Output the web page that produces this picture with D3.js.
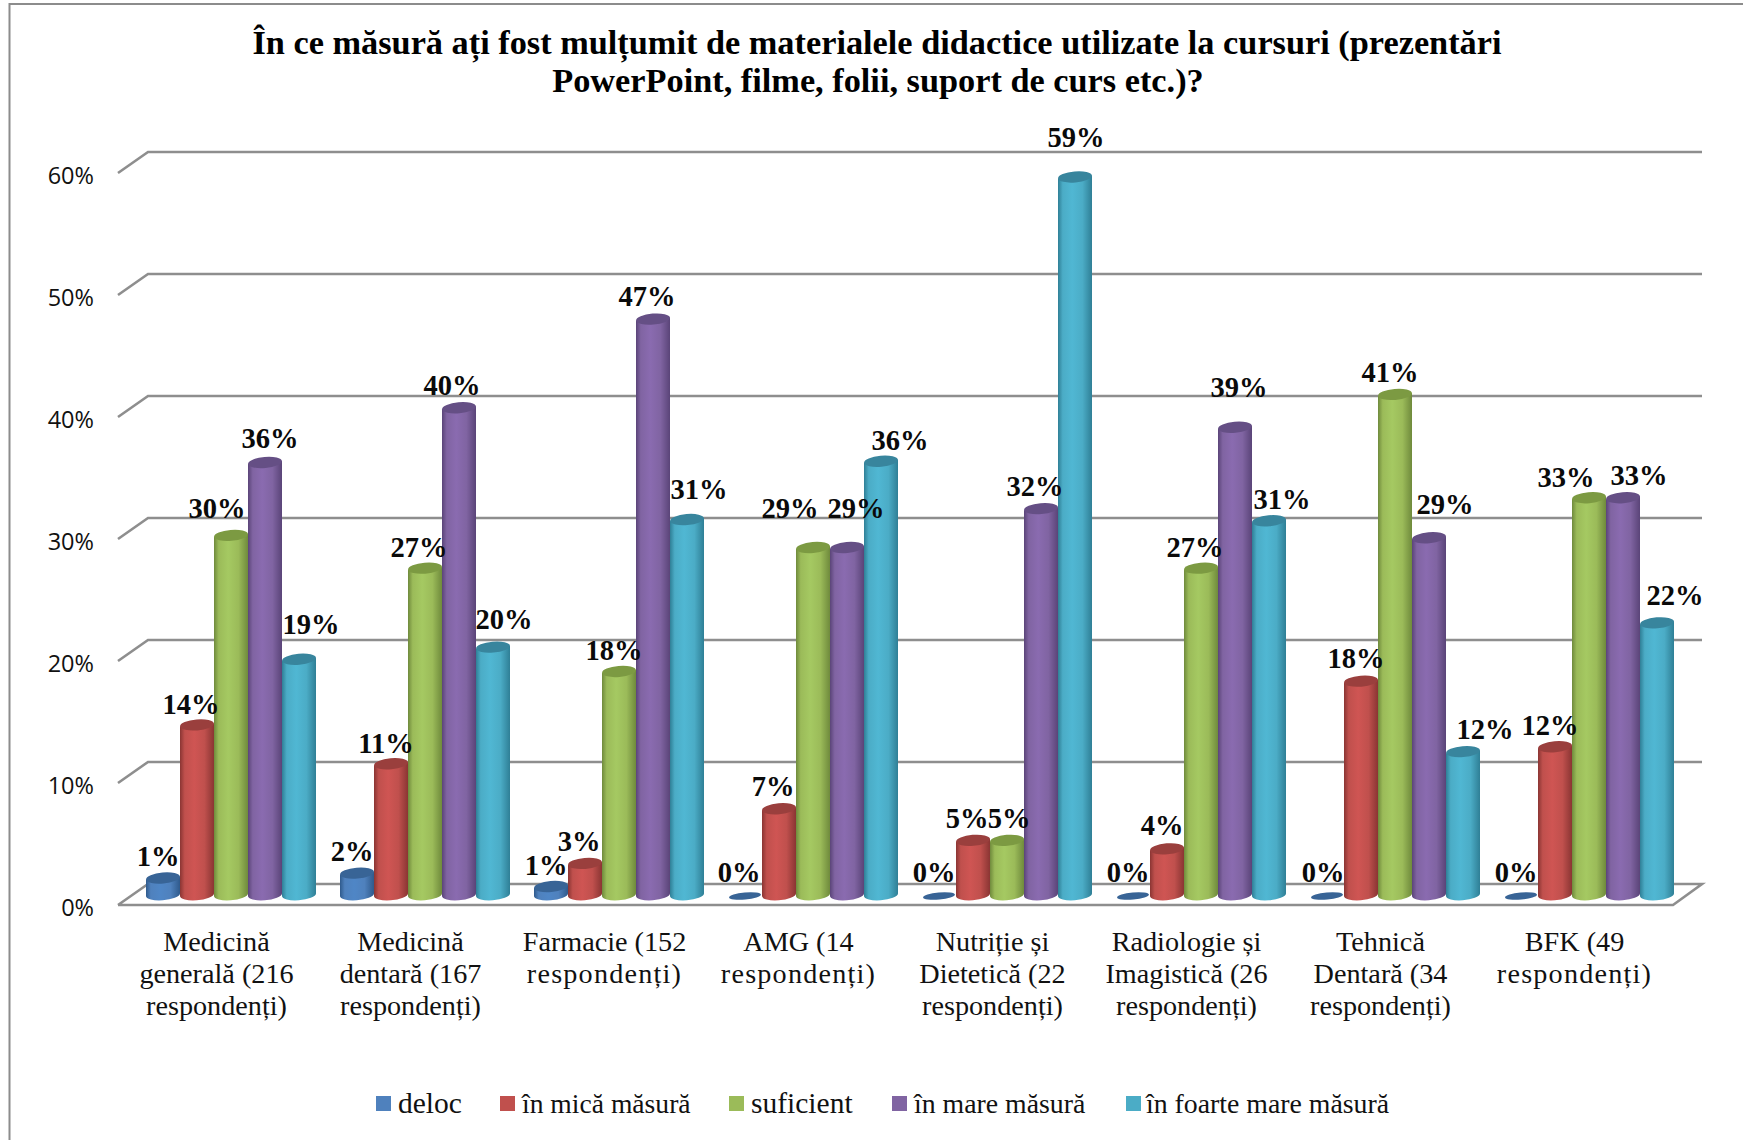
<!DOCTYPE html>
<html><head><meta charset="utf-8">
<script src="https://cdn.jsdelivr.net/npm/d3@7"></script>
<style>html,body{margin:0;padding:0;background:#fff}svg{display:block}</style>
</head><body><svg id="c" width="1743" height="1140"></svg>
<script>
const titleLines = ["În ce măsură ați fost mulțumit de materialele didactice utilizate la cursuri (prezentări","PowerPoint, filme, folii, suport de curs etc.)?"];
const categories = [
 ["Medicină","generală (216","respondenți)"],
 ["Medicină","dentară (167","respondenți)"],
 ["Farmacie (152","respondenți)"],
 ["AMG (14","respondenți)"],
 ["Nutriție și","Dietetică (22","respondenți)"],
 ["Radiologie și","Imagistică (26","respondenți)"],
 ["Tehnică","Dentară (34","respondenți)"],
 ["BFK (49","respondenți)"]];
const seriesNames = ["deloc","în mică măsură","suficient","în mare măsură","în foarte mare măsură"];
const deloc     = [1.4,1.8,0.7,0,0,0,0,0];
const inMica    = [14,10.8,2.6,7.1,4.5,3.8,17.6,12.2];
const suficient = [29.6,26.9,18.4,28.6,4.5,26.9,41.2,32.7];
const inMare    = [35.6,40.1,47.4,28.6,31.8,38.5,29.4,32.7];
const foarteMare= [19.4,20.4,30.9,35.7,59.1,30.8,11.8,22.4];
const seriesValues = [deloc,inMica,suficient,inMare,foarteMare];
const yTicks = [0,10,20,30,40,50,60];
const seriesColors = ["#4f81bd","#c0504d","#9bbb59","#8064a2","#4bacc6"];
const seriesLight  = ["#4f86c6","#cf5553","#a5c962","#8a6bb0","#50b7d3"];
const seriesDark   = ["#2f5a8c","#8a3533","#6f8a3c","#5a4478","#2f7f96"];
const seriesTop    = ["#386496","#9a3f3d","#7c9a42","#654f85","#38859d"];
// hand placement of the data labels relative to the bar tops: [dx,dy] per category, per series
const labelDx = [[-5,-6,-14,5,12],[-5,-5,-6,-7,11],[-5,-6,-5,-6,12],[-6,-6,-23,9,19],[-5,-6,2,-6,1],[-5,-5,-6,4,13],[-4,-5,-5,16,22],[-5,-5,-23,16,18]];
const labelDy = [[-21,-20,-27,-24,-35],[-22,-20,-21,-22,-28],[-21,-22,-21,-22,-30],[-22,-22,-39,-39,-21],[-22,-22,-22,-22,-39],[-22,-23,-21,-40,-21],[-22,-23,-22,-33,-22],[-22,-21,-20,-22,-27]];

const svg = d3.select("#c");
const SERIF = "'Liberation Serif','DejaVu Serif',serif";
const SANS = "'Open Sans','Noto Sans',sans-serif";
const grid="#8e8e8e";

const defs = svg.append("defs");
seriesColors.forEach((c,i)=>{
  const g=defs.append("linearGradient").attr("id","cyl"+i).attr("x1",0).attr("x2",1).attr("y1",0).attr("y2",0);
  [[0,seriesDark[i]],[0.14,seriesColors[i]],[0.42,seriesLight[i]],[0.72,seriesColors[i]],[1,seriesDark[i]]]
    .forEach(([o,col])=>g.append("stop").attr("offset",o).attr("stop-color",col));
});

// frame
svg.append("path").attr("d","M9.5,1140V4H1743").attr("fill","none").attr("stroke","#8c8c8c").attr("stroke-width",2);

// scales
const yBar = d3.scaleLinear().domain([0,60]).range([896,167]);
const yFront = d3.scaleLinear().domain([0,60]).range([905,173]);
const yBack = d3.scaleLinear().domain([0,60]).range([884,152]);
const x0 = d3.scaleBand().domain(d3.range(categories.length)).range([146,1698]).paddingInner(0).paddingOuter(0);
const xs = d3.scaleLinear().domain([0,5]).range([0,170]);
const backL=148, backR=1702, frontL=118, frontR=1673;

// gridlines
const gridG=svg.append("g").attr("fill","none").attr("stroke",grid).attr("stroke-width",2.6);
yTicks.forEach(t=>{
  const pts = t===0 ? [[frontL,yFront(t)],[backL,yBack(t)],[backR,yBack(t)],[frontR,yFront(t)],[frontL,yFront(t)]]
                    : [[frontL,yFront(t)],[backL,yBack(t)],[backR,yBack(t)]];
  gridG.append("path").attr("d",d3.line()(pts)).attr("stroke-linejoin","miter");
});

// y axis
const yAxis = d3.axisLeft(yFront).tickValues(yTicks).tickSize(0).tickPadding(0).tickFormat(d=>d+"%");
const ya = svg.append("g").attr("transform","translate(94,3)").call(yAxis);
ya.select(".domain").remove();
ya.selectAll("text").attr("font-family",SANS).attr("font-size",23.5).attr("fill","#111");

// bars
const rx=17, ry=5.5, tilt=-5;
categories.forEach((cat,g)=>{
  const gx=x0(g);
  const gg=svg.append("g");
  seriesValues.forEach((vals,s)=>{
    const v=vals[g], cx=gx+xs(s)+rx, top=yBar(v), bot=yBar(0);
    if(v===0){
      gg.append("ellipse").attr("cx",cx).attr("cy",bot).attr("rx",rx-1).attr("ry",3.5)
        .attr("transform",`rotate(${tilt} ${cx} ${bot})`).attr("fill",seriesTop[s]);
      return;
    }
    gg.append("path")
      .attr("d",`M${cx-rx},${top+0.5}L${cx-rx},${bot}A${rx},${ry} ${tilt} 0 0 ${cx+rx},${bot-2.5}L${cx+rx},${top-2.5}Z`)
      .attr("fill",`url(#cyl${s})`);
    gg.append("ellipse").attr("cx",cx).attr("cy",top-1).attr("rx",rx).attr("ry",ry)
      .attr("transform",`rotate(${tilt} ${cx} ${top-1})`).attr("fill",seriesTop[s]);
  });
});

// data labels
const lab=svg.append("g").attr("font-family",SERIF).attr("font-weight",700).attr("font-size",28.5).attr("fill","#0a0a0a").attr("text-anchor","middle");
categories.forEach((cat,g)=>{
  seriesValues.forEach((vals,s)=>{
    const v=vals[g], cx=x0(g)+xs(s)+rx;
    lab.append("text").attr("x",cx+labelDx[g][s]).attr("y",yBar(v)+labelDy[g][s]-1).attr("dy","0.33em").text(d3.format(".0f")(v)+"%");
  });
});

// category labels
const catG=svg.append("g").attr("font-family",SERIF).attr("font-size",28.2).attr("fill","#111").attr("text-anchor","middle");
categories.forEach((lines,g)=>{
  const cx=x0(g)+x0.bandwidth()/2-26.5;
  lines.forEach((t,i)=>catG.append("text").attr("x",cx).attr("y",951+i*32)
    .attr("letter-spacing",lines.length===2&&i===1?1.2:0).text(t));
});

// title
const tG=svg.append("g").attr("font-family",SERIF).attr("font-weight",700).attr("font-size",34.3).attr("fill","#000").attr("text-anchor","middle");
titleLines.forEach((t,i)=>tG.append("text").attr("x",i==0?877:878).attr("y",54+i*37.5).text(t));

// legend
const legendX=[376,500,729,892,1126];
const legendSize=[29.5,27.6,29.5,27.8,27.8];
const legend=svg.append("g");
seriesNames.forEach((n,i)=>{
  legend.append("rect").attr("x",legendX[i]).attr("y",1096).attr("width",15).attr("height",15).attr("fill",seriesColors[i]);
  legend.append("text").attr("x",legendX[i]+(i==4?20:22)).attr("y",1113).attr("font-family",SERIF).attr("font-size",legendSize[i]).attr("fill","#111").text(n);
});
</script></body></html>
